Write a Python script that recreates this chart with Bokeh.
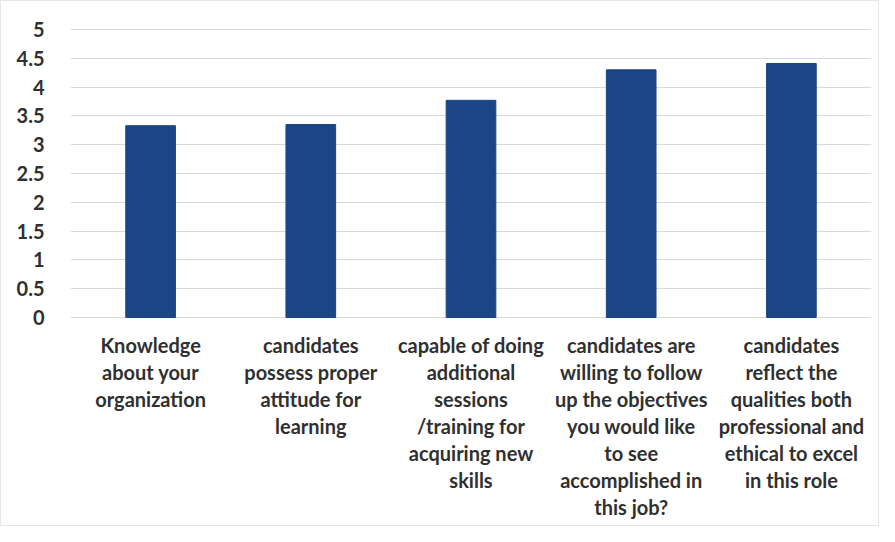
from bokeh.plotting import figure
from bokeh.models import FixedTicker, Range1d, Label
from bokeh.embed import file_html
from bokeh.resources import INLINE

categories = [
    "Knowledge about your organization",
    "candidates possess proper attitude for learning",
    "capable of doing additional sessions /training for acquiring new skills",
    "candidates are willing to follow up the objectives you would like to see accomplished in this job?",
    "candidates reflect the qualities both professional and ethical to excel in this role",
]
label_lines = [
    ["Knowledge", "about your", "organization"],
    ["candidates", "possess proper", "attitude for", "learning"],
    ["capable of doing", "additional", "sessions", "/training for", "acquiring new", "skills"],
    ["candidates are", "willing to follow", "up the objectives", "you would like", "to see",
     "accomplished in", "this job?"],
    ["candidates", "reflect the", "qualities both", "professional and", "ethical to excel",
     "in this role"],
]
values = [3.33, 3.35, 3.77, 4.30, 4.41]
y_ticks = [0, 0.5, 1, 1.5, 2, 2.5, 3, 3.5, 4, 4.5, 5]
y_tick_labels = ["0", "0.5", "1", "1.5", "2", "2.5", "3", "3.5", "4", "4.5", "5"]

FONT = "Lato"
TXT = "#303030"

# layout: 0..5 spans 288 px; category labels are drawn inside the frame below 0
PX_PER_UNIT = 288 / 5
TOP_PAD_PX = 2
LABEL_AREA_PX = 208
y_start = -LABEL_AREA_PX / PX_PER_UNIT
y_end = 5 + TOP_PAD_PX / PX_PER_UNIT

p = figure(x_range=categories, y_range=Range1d(y_start, y_end),
           frame_width=801, frame_height=288 + TOP_PAD_PX + LABEL_AREA_PX,
           output_backend="svg", toolbar_location=None,
           min_border_left=69, min_border_right=7, min_border_top=26, min_border_bottom=0)
p.vbar(x=categories, top=values, width=0.31, color="#1c4587")

p.outline_line_color = None
p.xgrid.grid_line_color = None
p.ygrid.grid_line_color = "#d9d9d9"
p.ygrid.grid_line_width = 1
p.xaxis.visible = False

p.yaxis.ticker = FixedTicker(ticks=y_ticks)
p.yaxis.major_label_overrides = dict(zip(y_ticks, y_tick_labels))
p.yaxis.axis_line_color = None
p.yaxis.major_tick_line_color = None
p.yaxis.minor_tick_line_color = None
p.yaxis.major_label_text_font = FONT
p.yaxis.major_label_text_font_style = "bold"
p.yaxis.major_label_text_font_size = "20px"
p.yaxis.major_label_text_color = TXT
p.yaxis.major_label_standoff = 20

for i, lines in enumerate(label_lines):
    for j, line in enumerate(lines):
        p.add_layout(Label(x=i + 0.5, y=0, y_offset=-(27 + 27 * j), text=line,
                           text_align="center", text_baseline="middle",
                           text_font=FONT, text_font_style="bold",
                           text_font_size="20px", text_color=TXT))

p.styles = {"border": "1px solid #e6e6e6"}

open("out.html", "w").write(file_html(p, INLINE))
